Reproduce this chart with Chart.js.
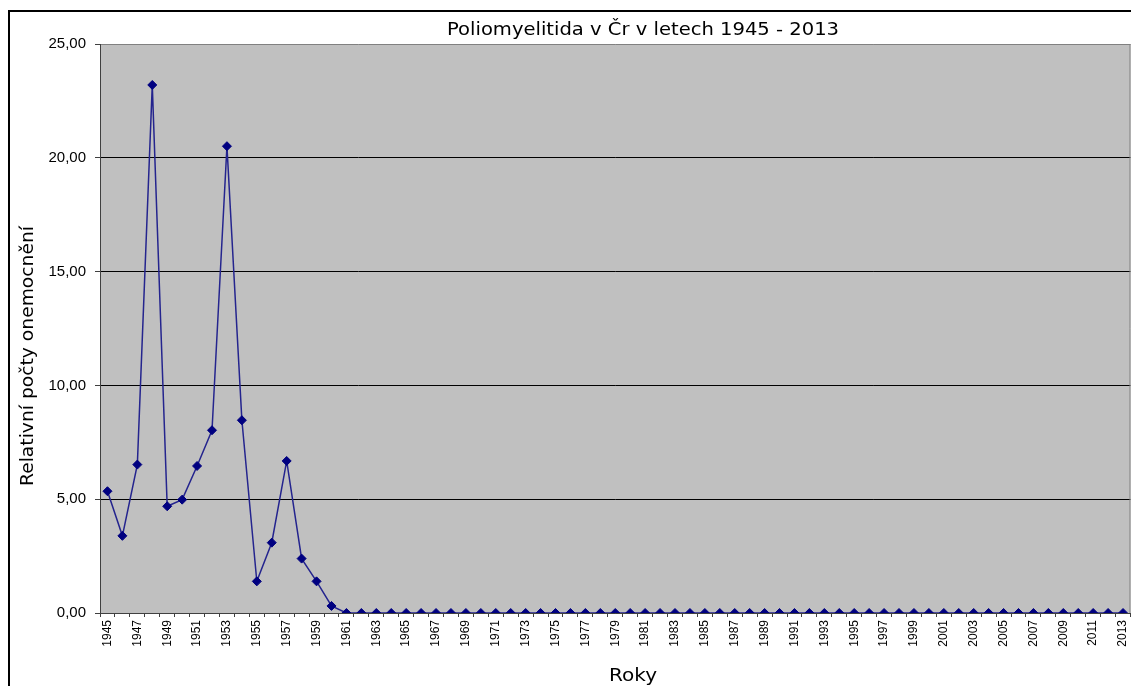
<!DOCTYPE html>
<html>
<head>
<meta charset="utf-8">
<script src="https://cdn.jsdelivr.net/npm/chart.js@4/dist/chart.umd.min.js"></script>
<style>
  html, body { margin: 0; padding: 0; background: #fff; overflow: hidden; }
  #wrap { width: 1131px; height: 686px; position: relative; overflow: hidden; }
</style>
</head>
<body>
<div id="wrap"><canvas id="myChart" width="1136" height="686"></canvas></div>
<script>
var ctx = document.getElementById('myChart').getContext('2d');

// roky 1945 - 2013
var roky = [
  '1945','1946','1947','1948','1949','1950','1951','1952','1953','1954',
  '1955','1956','1957','1958','1959','1960','1961','1962','1963','1964',
  '1965','1966','1967','1968','1969','1970','1971','1972','1973','1974',
  '1975','1976','1977','1978','1979','1980','1981','1982','1983','1984',
  '1985','1986','1987','1988','1989','1990','1991','1992','1993','1994',
  '1995','1996','1997','1998','1999','2000','2001','2002','2003','2004',
  '2005','2006','2007','2008','2009','2010','2011','2012','2013'
];

// relativní počty onemocnění
var pocty = [
  5.35, 3.39, 6.52, 23.20, 4.69, 4.98, 6.46, 8.03, 20.51, 8.47,
  1.39, 3.09, 6.68, 2.39, 1.39, 0.31, 0, 0, 0, 0,
  0, 0, 0, 0, 0, 0, 0, 0, 0, 0,
  0, 0, 0, 0, 0, 0, 0, 0, 0, 0,
  0, 0, 0, 0, 0, 0, 0, 0, 0, 0,
  0, 0, 0, 0, 0, 0, 0, 0, 0, 0,
  0, 0, 0, 0, 0, 0, 0, 0, 0
];

var yTicks = [0, 5, 10, 15, 20, 25];

var nazev = 'Poliomyelitida v Čr v letech 1945 - 2013';
var osaY = 'Relativní počty onemocnění';
var osaX = 'Roky';

// text roztažený ve směru psaní (originál je mírně roztažený)
function roztazenyText(c, text, x, y, uhel, font, sx) {
  c.save();
  c.translate(x, y);
  c.rotate(uhel);
  c.scale(sx, 1);
  c.font = font;
  c.fillText(text, 0, 0);
  c.restore();
}

// pozadí, rámeček a popisky
var pozadi = {
  id: 'pozadi',
  beforeDraw: function (chart) {
    var c = chart.ctx, a = chart.chartArea;
    c.save();
    c.fillStyle = '#ffffff';
    c.fillRect(0, 0, chart.width, chart.height);
    c.fillStyle = '#000000';
    c.fillRect(8, 10, 2, chart.height);
    c.fillRect(8, 10, chart.width, 2);
    c.fillStyle = '#c0c0c0';
    c.fillRect(a.left, a.top, a.right - a.left, a.bottom - a.top);
    c.restore();
  },
  afterDraw: function (chart) {
    var c = chart.ctx, a = chart.chartArea;
    c.save();
    c.strokeStyle = '#808080';
    c.lineWidth = 1;
    c.beginPath();
    c.moveTo(a.right - 0.5, a.top);
    c.lineTo(a.right - 0.5, a.bottom);
    c.stroke();

    c.fillStyle = '#000000';
    c.textAlign = 'center';
    c.textBaseline = 'middle';
    roztazenyText(c, nazev, 643, 31, 0, '17px "DejaVu Sans", Verdana, sans-serif', 1.15);
    roztazenyText(c, osaX, 633, 677, 0, '17px "DejaVu Sans", Verdana, sans-serif', 1.18);
    roztazenyText(c, osaY, 29, 356, -Math.PI / 2, '17px "DejaVu Sans", Verdana, sans-serif', 1.1);
    c.restore();
  }
};

var chart = new Chart(ctx, {
  type: 'line',
  data: {
    labels: roky,
    datasets: [{
      label: 'Poliomyelitida',
      data: pocty,
      borderColor: '#24248e',
      borderWidth: 1.5,
      backgroundColor: '#000080',
      pointBackgroundColor: '#000080',
      pointBorderColor: '#000080',
      pointStyle: 'rectRot',
      pointRadius: 4.5,
      pointBorderWidth: 1,
      tension: 0,
      fill: false
    }]
  },
  options: {
    responsive: false,
    animation: false,
    layout: { padding: { top: 44, right: 0.5, left: 0, bottom: 0 } },
    plugins: {
      legend: { display: false },
      title: { display: false },
      tooltip: { enabled: false }
    },
    scales: {
      x: {
        offset: true,
        grid: {
          offset: true,
          drawOnChartArea: false,
          drawTicks: true,
          tickLength: 4,
          color: '#404040'
        },
        border: { color: '#404040', width: 1 },
        ticks: {
          autoSkip: false,
          maxRotation: 90,
          minRotation: 90,
          padding: 3,
          color: '#000000',
          font: { family: '"Liberation Sans", Arial, sans-serif', size: 12 },
          callback: function (val, i) {
            return i % 2 === 0 ? roky[i] : '';
          }
        },
        afterFit: function (scale) {
          scale.height = 73;
          scale.paddingLeft = 0;
          scale.paddingRight = 0;
        }
      },
      y: {
        min: 0,
        max: 25,
        afterBuildTicks: function (scale) {
          scale.ticks = yTicks.map(function (v) { return { value: v }; });
        },
        grid: {
          tickLength: 5,
          tickColor: '#404040',
          color: function (c) {
            var v = c.tick ? c.tick.value : 0;
            if (v === 25) return '#808080';
            if (v === 0) return '#404040';
            return '#000000';
          }
        },
        border: { color: '#404040', width: 1 },
        ticks: {
          padding: 9,
          color: '#000000',
          font: { family: '"Liberation Sans", Arial, sans-serif', size: 15 },
          callback: function (v) { return v.toFixed(2).replace('.', ','); }
        },
        afterFit: function (scale) {
          scale.width = 100;
          scale.paddingTop = 0;
          scale.paddingBottom = 0;
        }
      }
    }
  },
  plugins: [pozadi]
});
</script>
</body>
</html>
